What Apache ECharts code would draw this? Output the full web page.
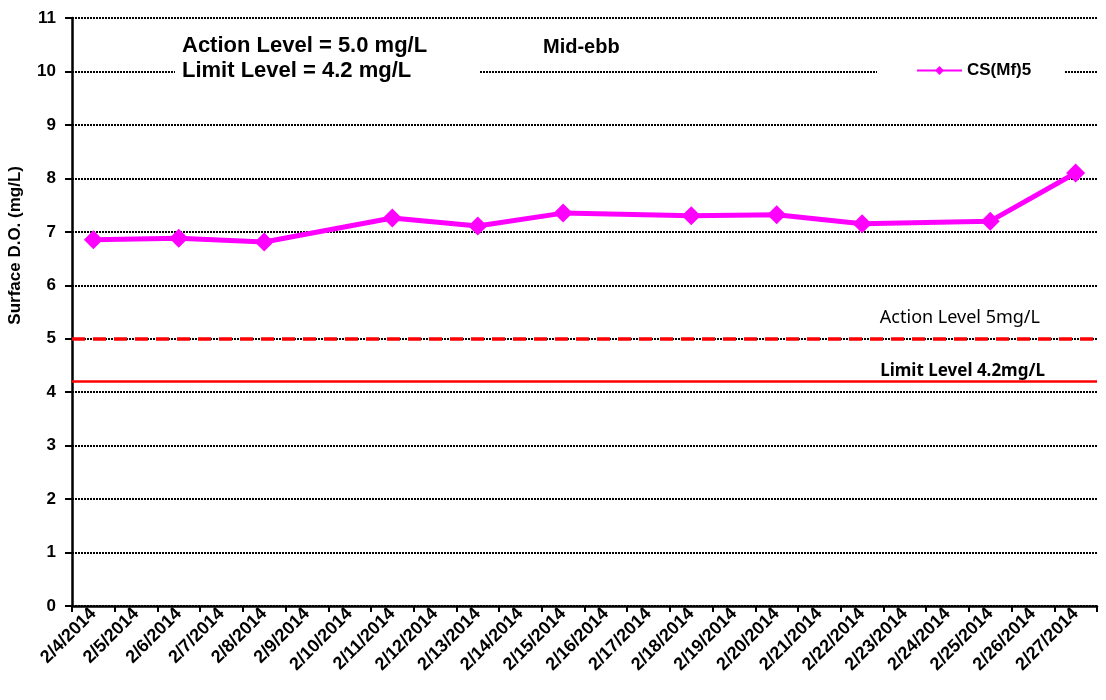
<!DOCTYPE html>
<html>
<head>
<meta charset="utf-8">
<script src="https://cdn.jsdelivr.net/npm/echarts@6/dist/echarts.min.js"></script>
<style>
html,body{margin:0;padding:0;background:#fff;}
#chart{width:1106px;height:700px;}
</style>
</head>
<body>
<div id="chart"></div>
<script>
const categories = ['2/4/2014','2/5/2014','2/6/2014','2/7/2014','2/8/2014','2/9/2014','2/10/2014','2/11/2014','2/12/2014','2/13/2014','2/14/2014','2/15/2014','2/16/2014','2/17/2014','2/18/2014','2/19/2014','2/20/2014','2/21/2014','2/22/2014','2/23/2014','2/24/2014','2/25/2014','2/26/2014','2/27/2014'];
const doValues = [6.85,null,6.88,null,6.81,null,null,7.26,null,7.11,null,7.35,null,null,7.30,null,7.32,null,7.15,null,null,7.20,null,8.10];
const seriesName = 'CS(Mf)5';
const actionLevel = 5.0;
const limitLevel = 4.2;
const yTicks = [0,1,2,3,4,5,6,7,8,9,10,11];
const titleText = 'Action Level = 5.0 mg/L\nLimit Level = 4.2 mg/L';
const subTitle = 'Mid-ebb';
const yName = 'Surface D.O. (mg/L)';
const actionLabel = 'Action Level 5mg/L';
const limitLabel = 'Limit Level 4.2mg/L';

const chart = echarts.init(document.getElementById('chart'));
chart.setOption({
  animation: false,
  backgroundColor: '#fff',
  textStyle: { fontFamily: 'Liberation Sans, Arial, sans-serif' },
  grid: { left: 72, right: 9, top: 18, bottom: 94, containLabel: false },
  title: [
    { text: titleText, left: 175, top: 29,
      backgroundColor: '#fff', padding: [4, 52, 4, 7],
      textStyle: { fontSize: 22, fontWeight: 'bold', color: '#000', lineHeight: 25, fontFamily: 'Liberation Sans, Arial' } },
    { text: subTitle, left: 543, top: 37, padding: 0,
      textStyle: { fontSize: 20, fontWeight: 'bold', color: '#000', fontFamily: 'Liberation Sans, Arial' } }
  ],
  legend: {
    left: 877, top: 58,
    backgroundColor: '#fff',
    padding: [4, 33, 4, 39],
    itemWidth: 45, itemHeight: 11, itemGap: 5,
    textStyle: { fontSize: 17, fontWeight: 'bold', color: '#000' },
    data: [seriesName]
  },
  xAxis: {
    type: 'category',
    data: categories,
    boundaryGap: true,
    axisLine: { lineStyle: { color: '#000', width: 2.5 } },
    axisTick: { show: true, length: 6, lineStyle: { color: '#000', width: 2 }, alignWithLabel: false },
    axisLabel: { rotate: 45, interval: 0, fontSize: 18, fontWeight: 'bold', color: '#000', margin: 5,
      textShadowColor: '#888', textShadowOffsetX: 1, textShadowOffsetY: 1, textShadowBlur: 0 },
    splitLine: { show: false }
  },
  yAxis: {
    type: 'value', min: yTicks[0], max: yTicks[yTicks.length-1], interval: 1,
    axisLine: { show: true, lineStyle: { color: '#000', width: 2.5 } },
    axisTick: { show: true, length: 7, lineStyle: { color: '#000', width: 2 } },
    axisLabel: { fontSize: 17, fontWeight: 'bold', color: '#000', margin: 16 },
    splitLine: { show: true, lineStyle: { color: '#000', width: 2, type: [2, 1] } }
  },
  graphic: [
    { type: 'text', left: 7, top: 166, rotation: Math.PI/2,
      style: { text: yName, fontSize: 17, fontWeight: 'bold', fill: '#000', fontFamily: 'Liberation Sans, Arial' } }
  ],
  series: [{
    name: seriesName,
    type: 'line',
    data: doValues,
    connectNulls: true,
    symbol: 'diamond',
    symbolSize: 19,
    lineStyle: { color: '#FF00FF', width: 5 },
    itemStyle: { color: '#FF00FF' },
    markLine: {
      silent: true,
      symbol: 'none',
      data: [
        { yAxis: actionLevel,
          lineStyle: { color: '#FF0000', width: 3.5, type: [13, 8] },
          label: { show: true, formatter: actionLabel, position: 'insideEndTop', distance: [57, 12],
            fontSize: 18, color: '#000', fontFamily: 'Noto Sans, Open Sans, sans-serif' } },
        { yAxis: limitLevel,
          lineStyle: { color: '#FF0000', width: 2.5, type: 'solid' },
          label: { show: true, formatter: limitLabel, position: 'insideEndTop', distance: [52, 2],
            fontSize: 17, fontWeight: 'bold', color: '#000', fontFamily: 'Noto Sans, Open Sans, sans-serif' } }
      ]
    }
  }]
});
</script>
</body>
</html>
